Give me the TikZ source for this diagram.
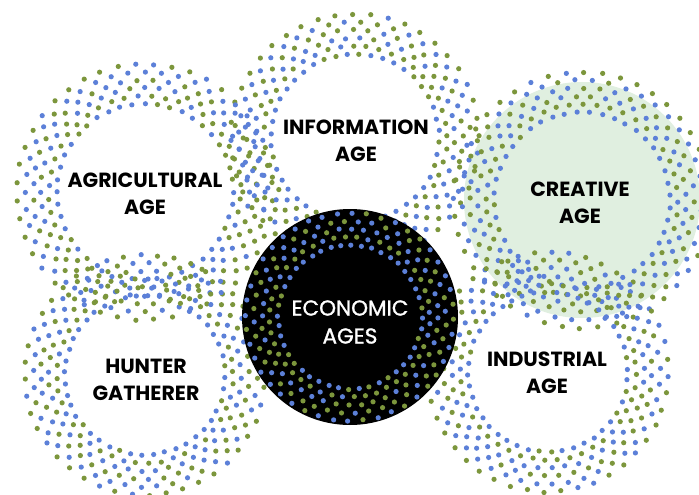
\documentclass[tikz,border=0pt]{standalone}
\usepackage{fontspec}
\setmainfont{Poppins}
\newfontfamily\econfont{Poppins}[FakeBold=1.2]
\definecolor{dotblue}{RGB}{92,128,216}
\definecolor{dotgreen}{RGB}{124,150,60}
\definecolor{mint}{RGB}{224,239,224}
\newcommand\dotrings[5]{%
 \foreach \k in {0,...,#4}{%
   \pgfmathsetmacro\dRr{#3+8*\k}%
   \pgfmathsetmacro\dStep{360/44}%
   \pgfmathsetmacro\dOff{mod(\k,2)*\dStep/2+#5}%
   \foreach \i in {1,...,44}{%
     \pgfmathsetmacro\dAng{\dOff+\dStep*\i}%
     \pgfmathtruncatemacro\dCc{mod(\k+(rnd<0.22),2)}%
     \ifnum\dCc=0 \def\dCol{dotblue}\else\def\dCol{dotgreen}\fi
     \pgfmathsetmacro\dX{#1+\dRr*cos(\dAng)+1.4*(rnd-0.5)}%
     \pgfmathsetmacro\dY{#2+\dRr*sin(\dAng)+1.4*(rnd-0.5)}%
     \fill[\dCol] (\dX,\dY) circle[radius=2.6pt];
   }%
 }}
\tikzset{agelabel/.style={align=center,font=\bfseries\fontsize{20.5}{27}\selectfont,text=black,inner sep=0pt}}
\begin{document}
\begin{tikzpicture}[x=1pt,y=-1pt]
\pgfmathsetseed{11}
\useasboundingbox[fill=white] (0,0) rectangle (699,495);
% creative fill
\fill[mint] (582,200) circle[radius=118pt];
% rings
\dotrings{145}{192}{88}{5}{0}
\dotrings{355}{138}{84}{5}{3}
\dotrings{582}{200}{88}{5}{5}
\dotrings{145}{375}{80}{5}{2}
\dotrings{548}{372}{80}{5}{6}
% economic
\fill[black] (350,317) circle[radius=108pt];
\dotrings{350}{317}{72}{4}{1}
% labels
\node[agelabel] (agri) at (145,194) {AGRICULTURAL\\AGE};
\node[agelabel] (info) at (356,141) {INFORMATION\\AGE};
\node[agelabel] (crea) at (580,203) {CREATIVE\\AGE};
\node[agelabel] (hunt) at (146,380) {HUNTER\\GATHERER};
\node[agelabel] (indu) at (547,373) {INDUSTRIAL\\AGE};
\node[agelabel,text=white,font=\econfont\fontsize{21.5}{28}\selectfont] (econ) at (350,322) {ECONOMIC\\AGES};
\end{tikzpicture}
\end{document}
